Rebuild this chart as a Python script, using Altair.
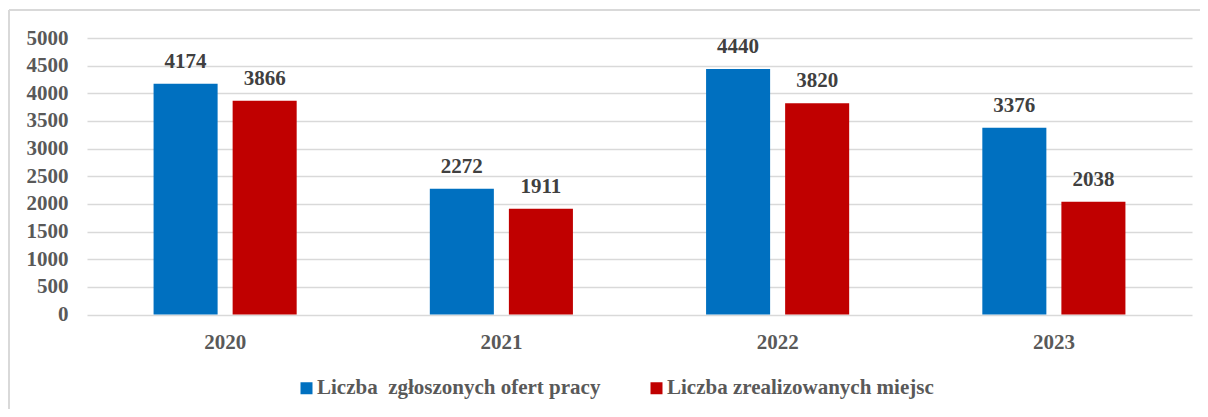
import altair as alt
import pandas as pd

years = ["2020", "2021", "2022", "2023"]
series = ["Liczba  zgłoszonych ofert pracy", "Liczba zrealizowanych miejsc"]
offers = [4174, 2272, 4440, 3376]
realized = [3866, 1911, 3820, 2038]
colors = ["#0070C0", "#C00000"]
y_ticks = [0, 500, 1000, 1500, 2000, 2500, 3000, 3500, 4000, 4500, 5000]

rows = []
for i, y in enumerate(years):
    rows.append({"Rok": y, "Seria": series[0], "Wartość": offers[i]})
    rows.append({"Rok": y, "Seria": series[1], "Wartość": realized[i]})
df = pd.DataFrame(rows)

FONT = "Liberation Serif"
FS = 21

x = alt.X("Rok:N", sort=years, title=None,
          scale=alt.Scale(paddingInner=0, paddingOuter=0),
          axis=alt.Axis(labelAngle=0, domain=False, ticks=False, labelPadding=17,
                        labelFont=FONT, labelFontSize=FS, labelFontWeight="bold",
                        labelColor="#595959"))
xo = alt.XOffset("Seria:N", sort=series,
                 scale=alt.Scale(paddingInner=0.19, paddingOuter=0.842))
y = alt.Y("Wartość:Q", title=None,
          scale=alt.Scale(domain=[0, 5000], nice=False),
          axis=alt.Axis(values=y_ticks, format="d", domain=False, ticks=False,
                        grid=True, gridColor="#d9d9d9", gridWidth=1.5, labelPadding=19,
                        labelFont=FONT, labelFontSize=FS, labelFontWeight="bold",
                        labelColor="#595959"))

bars = alt.Chart(df).mark_bar().encode(
    x=x, xOffset=xo, y=y,
    color=alt.Color("Seria:N", sort=series, title=None,
                    scale=alt.Scale(domain=series, range=colors),
                    legend=alt.Legend(orient="none", direction="horizontal",
                                      legendX=209, legendY=63 + 276.5,
                                      symbolType="square", symbolSize=144,
                                      symbolStrokeWidth=0, symbolOpacity=1,
                                      labelFont=FONT, labelFontSize=FS,
                                      labelFontWeight="bold", labelColor="#595959",
                                      labelOffset=0, columnPadding=45,
                                      labelLimit=400,
                                      labelExpr="replace(datum.label, '  ', '\u00a0 ')"))
)

labels = alt.Chart(df).mark_text(
    baseline="alphabetic", dy=-16, font=FONT, fontSize=FS, fontWeight="bold",
    color="#404040"
).encode(x=x, xOffset=xo, y=y, text=alt.Text("Wartość:Q", format="d"))

frame_left = alt.Chart(df).mark_rule(color="#d9d9d9", strokeWidth=1.5).encode(
    x=alt.value(-78), y=alt.value(-28), y2=alt.value(420))
frame_top = alt.Chart(df).mark_rule(color="#d9d9d9", strokeWidth=1.5).encode(
    x=alt.value(-78), x2=alt.value(1113), y=alt.value(-28))

chart = alt.layer(frame_left, frame_top, bars, labels).properties(
    width=1105, height=276.5,
    autosize=alt.AutoSizeParams(type="none"),
    padding={"left": 79, "top": 30, "right": 8, "bottom": 94},
    background="white"
).configure_view(stroke=None)

chart.save("out.html", embed_options={"renderer": "svg", "actions": False})
